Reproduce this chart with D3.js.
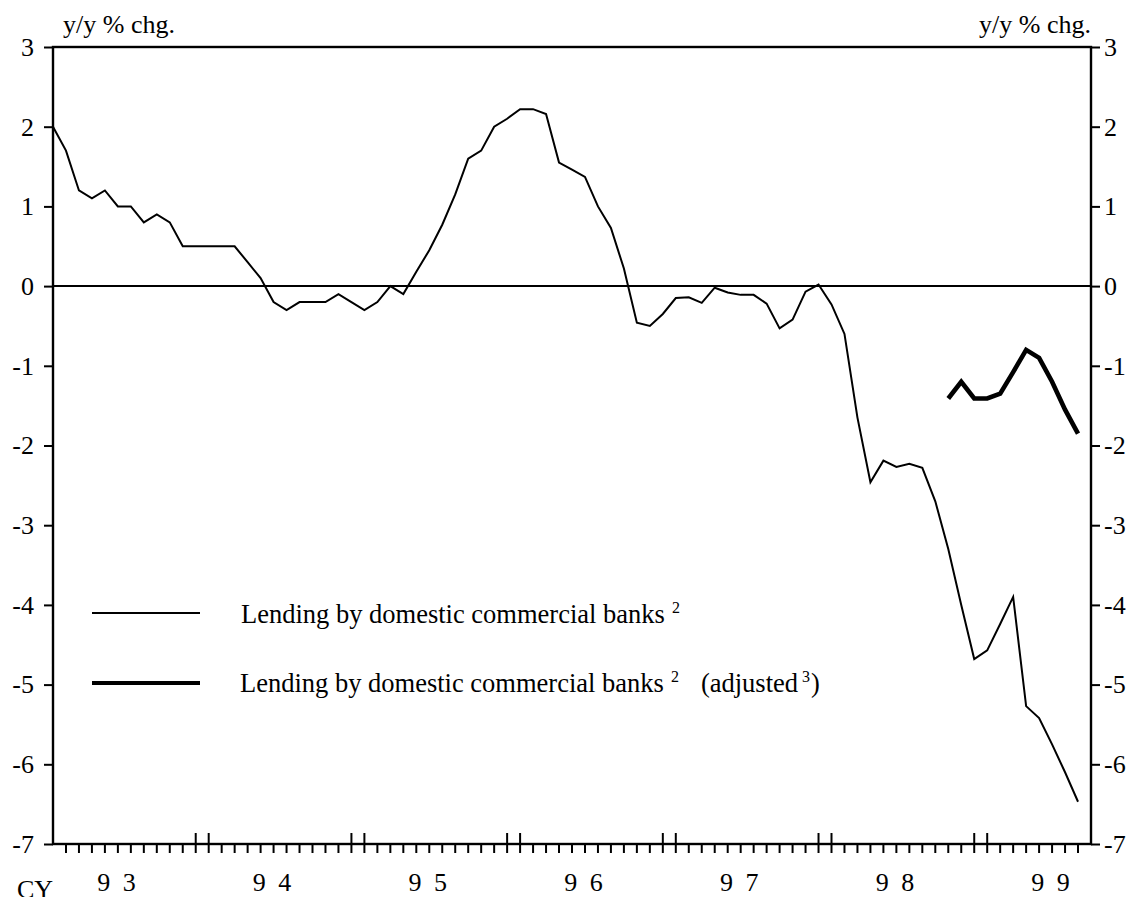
<!DOCTYPE html>
<html>
<head>
<meta charset="utf-8">
<script src="https://cdn.jsdelivr.net/npm/d3@7"></script>
<style>
  html, body { margin: 0; padding: 0; background: #fff; }
  svg { display: block; }
  text { font-family: "Liberation Serif", "Times New Roman", serif; fill: #000; }
</style>
</head>
<body>
<svg id="chart" width="1135" height="897"></svg>
<script>
// ---- data (monthly, index 0 = Jan 1993) ----
const lendingSeries = [
  2.0, 1.7, 1.2, 1.1, 1.2, 1.0, 1.0, 0.8, 0.9, 0.8, 0.5, 0.5,
  0.5, 0.5, 0.5, 0.3, 0.1, -0.2, -0.3, -0.2, -0.2, -0.2, -0.1, -0.2,
  -0.3, -0.2, 0.0, -0.1, 0.18, 0.45, 0.77, 1.15, 1.6, 1.7, 2.0, 2.1,
  2.22, 2.22, 2.16, 1.55, 1.46, 1.37, 1.0, 0.73, 0.22, -0.46, -0.5, -0.35,
  -0.15, -0.14, -0.21, -0.02, -0.08, -0.11, -0.11, -0.22, -0.53, -0.42, -0.07, 0.02,
  -0.23, -0.6, -1.65, -2.46, -2.19, -2.27, -2.23, -2.28, -2.7, -3.3, -4.0, -4.68,
  -4.57, -4.24, -3.9, -5.27, -5.42, -5.75, -6.1, -6.47
];
const adjustedStart = 69;
const adjustedSeries = [-1.41, -1.2, -1.41, -1.41, -1.35, -1.08, -0.8, -0.9, -1.2, -1.55, -1.85];
const yTicks = [3, 2, 1, 0, -1, -2, -3, -4, -5, -6, -7];
const yearLabels = ["9 3", "9 4", "9 5", "9 6", "9 7", "9 8", "9 9"];
const monthCount = 80;
const yearBreaks = [11, 12, 23, 24, 35, 36, 47, 48, 59, 60, 71, 72];
const legendLabels = ["Lending by domestic commercial banks", "Lending by domestic commercial banks"];

// ---- layout ----
const svg = d3.select("#chart");
const pL = 53, pR = 1091, pT = 47, pB = 844;
const x = d3.scaleLinear().domain([0, monthCount]).range([pL, pR]);
const y = d3.scaleLinear().domain([-7, 3]).range([pB, pT]);
const fs = 26;

// frame
svg.append("rect").attr("x", pL).attr("y", pT).attr("width", pR - pL).attr("height", pB - pT)
  .attr("fill", "none").attr("stroke", "#000").attr("stroke-width", 2.4);

// zero line
svg.append("line").attr("x1", pL).attr("x2", pR).attr("y1", y(0)).attr("y2", y(0))
  .attr("stroke", "#000").attr("stroke-width", 2);

// y axes
const fmt = d => d < 0 ? "-" + Math.abs(d) : String(d);
const yAxisL = d3.axisLeft(y).tickValues(yTicks).tickSize(9).tickPadding(10).tickFormat(fmt);
const gL = svg.append("g").attr("transform", `translate(${pL},0)`).call(yAxisL);
const yAxisR = d3.axisRight(y).tickValues(yTicks).tickSize(9).tickPadding(4).tickFormat(fmt);
const gR = svg.append("g").attr("transform", `translate(${pR},0)`).call(yAxisR);
[gL, gR].forEach(g => {
  g.select(".domain").remove();
  g.selectAll(".tick line").attr("stroke", "#000").attr("stroke-width", 2);
  g.selectAll(".tick text").attr("font-size", fs).attr("font-family", "Liberation Serif").attr("fill", "#000");
});

// x month ticks
const months = d3.range(1, monthCount);
svg.append("g").selectAll("line").data(months).join("line")
  .attr("x1", d => x(d)).attr("x2", d => x(d))
  .attr("y1", d => yearBreaks.includes(d) ? pB - 11 : pB)
  .attr("y2", pB + 9)
  .attr("stroke", "#000").attr("stroke-width", 2);

// year labels
svg.append("g").selectAll("text").data(yearLabels).join("text")
  .attr("x", (d, i) => x(5 + 12 * i))
  .attr("y", 891)
  .attr("text-anchor", "middle")
  .attr("font-size", fs)
  .style("letter-spacing", "3px")
  .text(d => d);
svg.append("text").attr("x", 17).attr("y", 898).attr("font-size", fs).text("CY");

// unit labels
svg.append("text").attr("x", 63).attr("y", 33).attr("font-size", fs).text("y/y % chg.");
svg.append("text").attr("x", pR).attr("y", 33).attr("font-size", fs).attr("text-anchor", "end").text("y/y % chg.");

// series
const line = d3.line().x(d => x(d.i)).y(d => y(d.v));
const thinData = lendingSeries.map((v, i) => ({ i, v }));
const thickData = adjustedSeries.map((v, k) => ({ i: adjustedStart + k, v }));
svg.append("path").datum(thinData).attr("d", line)
  .attr("fill", "none").attr("stroke", "#000").attr("stroke-width", 2).attr("stroke-linejoin", "miter");
svg.append("path").datum(thickData).attr("d", line)
  .attr("fill", "none").attr("stroke", "#000").attr("stroke-width", 4.6).attr("stroke-linejoin", "miter");

// legend
const lfs = 26.5;
const lg = svg.append("g");
lg.append("line").attr("x1", 92).attr("x2", 200).attr("y1", 613).attr("y2", 613)
  .attr("stroke", "#000").attr("stroke-width", 1.8);
lg.append("line").attr("x1", 92).attr("x2", 200).attr("y1", 683).attr("y2", 683)
  .attr("stroke", "#000").attr("stroke-width", 4.2);
const t1 = lg.append("text").attr("x", 241).attr("y", 623).attr("font-size", lfs);
t1.append("tspan").text(legendLabels[0]);
t1.append("tspan").attr("dx", 7).attr("dy", -10).attr("font-size", 16).text("2");
const t2 = lg.append("text").attr("x", 240).attr("y", 692).attr("font-size", lfs);
t2.append("tspan").text(legendLabels[1]);
t2.append("tspan").attr("dx", 7).attr("dy", -10).attr("font-size", 16).text("2");
t2.append("tspan").attr("dx", 22).attr("dy", 10).text("(adjusted");
t2.append("tspan").attr("dx", 4).attr("dy", -10).attr("font-size", 16).text("3");
t2.append("tspan").attr("dx", 1).attr("dy", 10).text(")");
</script>
</body>
</html>
